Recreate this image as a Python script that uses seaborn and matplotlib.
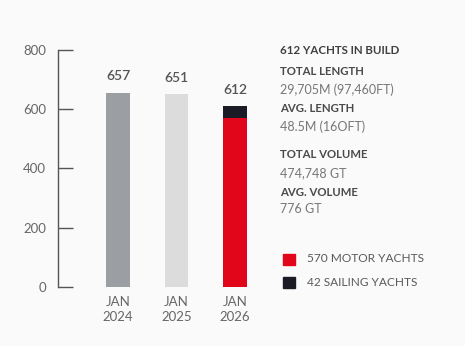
import matplotlib
matplotlib.use("Agg")
import matplotlib.pyplot as plt
import seaborn as sns
import pandas as pd
import numpy as np

# Yachts in build, by January of each year
periods = ["JAN\n2024", "JAN\n2025", "JAN\n2026"]
totals = [657, 651, 612]
motor_yachts = [np.nan, np.nan, 570]
sailing_yachts = 42

summary_heads = ["TOTAL LENGTH", "AVG. LENGTH", "TOTAL VOLUME", "AVG. VOLUME"]
summary_values = ["29,705M (97,460FT)", "48.5M (16OFT)", "474,748 GT", "776 GT"]
headline = "612 YACHTS IN BUILD"
legend_labels = ["570 MOTOR YACHTS", "42 SAILING YACHTS"]

bar_colors = ["#9b9fa4", "#dcdcdc", "#1b1b26"]
motor_color = "#e2061b"
bg = "#fafafa"

sns.set_theme(style="white")
plt.rcParams["font.family"] = ["Lato", "DejaVu Sans"]

fig = plt.figure(figsize=(4.65, 3.46), dpi=100, facecolor=bg)
W, H = 465, 346
px_unit = 58.5
left_px, right_px = 58, 264
ax = fig.add_axes([left_px / W, (H - 286.7) / H, (right_px - left_px) / W, 236.4 / H])
ax.set_facecolor(bg)

df = pd.DataFrame({"period": periods, "total": totals, "motor": motor_yachts})
sns.barplot(data=df, x="period", y="total", hue="period", palette=bar_colors,
            width=0.41, legend=False, ax=ax, saturation=1, linewidth=0)
sns.barplot(data=df, x="period", y="motor", color=motor_color,
            width=0.41, ax=ax, saturation=1, linewidth=0)

ax.set_ylim(0, 800)
ax.set_xlim(-(118 - left_px) / px_unit, 2 + (right_px - 235) / px_unit)
ax.set_yticks([0, 200, 400, 600, 800])
ax.set_xlabel("")
ax.set_ylabel("")

for s in ["top", "right", "bottom"]:
    ax.spines[s].set_visible(False)
ax.spines["left"].set_color("#555555")
ax.spines["left"].set_linewidth(1.0)

ax.tick_params(axis="y", left=True, direction="in", length=10.8, width=1.0,
               color="#555555", pad=8.5, labelsize=9.5, labelcolor="#666666")
ax.tick_params(axis="x", bottom=False, length=0, pad=7, labelsize=9.5,
               labelcolor="#666666")
for lbl in ax.get_xticklabels():
    lbl.set_linespacing(1.25)

for i, v in enumerate(totals):
    ax.annotate(f"{v}", (i, v), xytext=(0, 11.7), textcoords="offset points",
                ha="center", va="center", fontsize=10, color="#555555",
                fontweight="semibold")

# Summary panel
def fy(px):
    return 1 - px / H

tx = 280 / W
fig.text(tx, fy(50.7), headline, fontsize=8.3, fontweight="bold", color="#3f3f3f", va="center")
head_y = [71.7, 109, 155, 192.7]
val_y = [90, 126.7, 172.7, 209]
for h, v, hy, vy in zip(summary_heads, summary_values, head_y, val_y):
    fig.text(tx, fy(hy), h, fontsize=8.2, fontweight="bold", color="#4a4a4a", va="center")
    fig.text(tx, fy(vy), v, fontsize=9, color="#777777", va="center")

# Legend
for lab, col, cy in zip(legend_labels, [motor_color, bar_colors[2]], [259, 282.3]):
    fig.patches.append(plt.Rectangle((283 / W, fy(cy + 5.5)), 12 / W, 11 / H,
                                     transform=fig.transFigure, color=col, figure=fig))
    fig.text(306.5 / W, fy(cy), lab, fontsize=8.6, color="#5a5a5a", va="center")

fig.savefig("out.png", dpi=100, facecolor=bg)
